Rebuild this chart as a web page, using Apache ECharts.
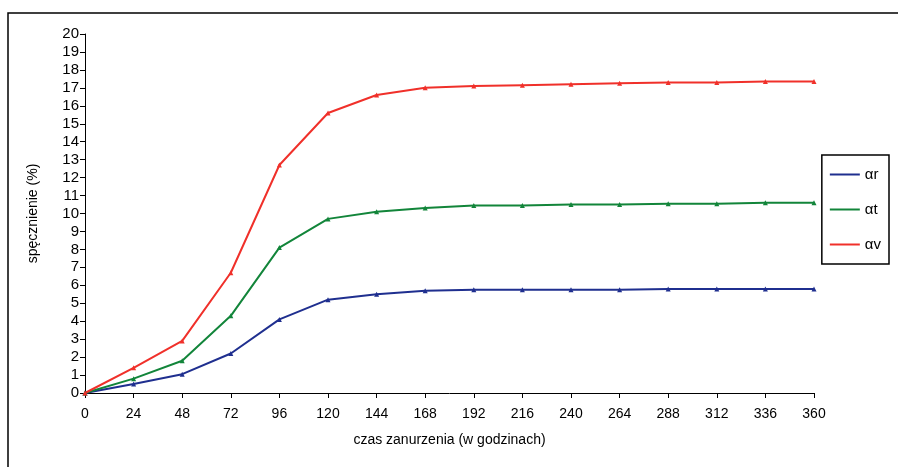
<!DOCTYPE html>
<html><head><meta charset="utf-8">
<script src="https://cdn.jsdelivr.net/npm/echarts@6/dist/echarts.min.js"></script>
<style>html,body{margin:0;background:#fff}#c{width:898px;height:467px}</style>
</head><body>
<div id="c"></div>
<script>
var hours = ['0','24','48','72','96','120','144','168','192','216','240','264','288','312','336','360'];
var alphaR = [0,0.5,1.05,2.2,4.1,5.2,5.5,5.7,5.75,5.75,5.75,5.75,5.8,5.8,5.8,5.8];
var alphaT = [0,0.8,1.8,4.3,8.1,9.7,10.1,10.3,10.45,10.45,10.5,10.5,10.55,10.55,10.6,10.6];
var alphaV = [0,1.4,2.9,6.7,12.7,15.6,16.6,17.0,17.1,17.15,17.2,17.25,17.3,17.3,17.35,17.35];

function line(name, data, color) {
    return {
        name: name, type: 'line', data: data, symbol: 'triangle', symbolSize: 5,
        lineStyle: {color: color, width: 2}, itemStyle: {color: color}
    };
}
var myChart = echarts.init(document.getElementById('c'));
myChart.setOption({
    animation: false,
    graphic: [{type: 'rect', shape: {x: 8, y: 13, width: 900, height: 460},
        style: {fill: 'none', stroke: '#000', lineWidth: 1.5}}],
    legend: {
        orient: 'vertical', right: 9, top: 155, width: 50, itemGap: 20,
        padding: [12, 8, 12, 8], borderColor: '#000', borderWidth: 1.5,
        itemWidth: 30, itemHeight: 2, icon: 'rect',
        textStyle: {fontFamily: 'Liberation Sans', fontSize: 15, color: '#000'},
        data: ['αr', 'αt', 'αv']
    },
    grid: {left: 85, right: 84, top: 34, bottom: 74},
    xAxis: {
        type: 'category', data: hours, boundaryGap: false,
        name: 'czas zanurzenia (w godzinach)', nameLocation: 'middle', nameGap: 40,
        nameTextStyle: {fontFamily: 'Liberation Sans', fontSize: 14, color: '#000'},
        axisLine: {lineStyle: {color: '#000'}},
        axisTick: {show: true, length: 5, lineStyle: {color: '#000'}},
        axisLabel: {fontFamily: 'Liberation Sans', fontSize: 14, color: '#000', margin: 14}
    },
    yAxis: {
        type: 'value', min: 0, max: 20, interval: 1,
        name: 'spęcznienie (%)', nameLocation: 'middle', nameGap: 45,
        nameTextStyle: {fontFamily: 'Liberation Sans', fontSize: 14, color: '#000'},
        axisLine: {show: true, lineStyle: {color: '#000'}},
        axisTick: {show: true, length: 5, lineStyle: {color: '#000'}},
        splitLine: {show: false},
        axisLabel: {fontFamily: 'Liberation Sans', fontSize: 15, color: '#000', margin: 6}
    },
    series: [
        line('αr', alphaR, '#1f2f8f'),
        line('αt', alphaT, '#12853a'),
        line('αv', alphaV, '#f0302a')
    ]
});
</script>
</body></html>
